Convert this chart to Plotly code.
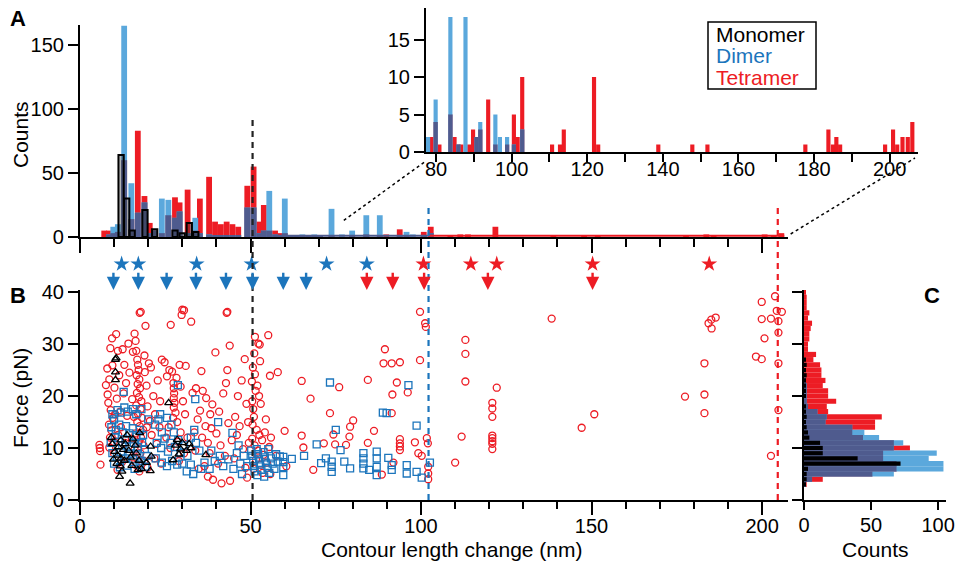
import plotly.graph_objects as go

W, H = 958, 563
RED = "#ED1C24"
BLUE = "#1C75BC"
LBLUE = "#5BA8DC"
SLATE = "#4F5B8E"
FONT = "Liberation Sans, Arial, sans-serif"

# ---------------- Panel A main histogram (contour length, nm) ----------------
a_centers = [7.1, 8.5, 9.75, 11.1, 12.95, 15.05, 16.95, 18.9, 20.45, 22.0, 24.0, 25.9, 27.85,
             29.2, 31.55, 33.8, 35.15, 37.85, 39.6, 41.3, 43.0, 44.7, 46.4, 49.05, 50.9, 52.55,
             53.9, 55.5, 57.2, 58.8, 60.05, 61.8, 63.5, 65.2, 67.0, 68.7, 70.4, 73.75, 76.8, 79.8,
             83.95, 87.9, 89.8, 93.75, 95.75, 97.6, 100.8, 102.85, 108.6, 111.5, 113.75, 121.8,
             138.8, 147.8, 151.8, 177.7, 183.65, 185.8, 200.75, 203.4, 205.65]
a_dimer = [0, 2, 8, 10, 165, 42, 19, 27, 3, 5, 30, 29, 15,
           20, 3, 15, 3, 2, 1, 1, 1, 1, 1, 23, 23, 3,
           5, 36, 2, 1, 30, 1, 1, 2, 1, 2, 1, 22, 2, 5,
           17, 17, 0, 1, 4, 2, 1, 3, 0, 0, 0, 0,
           0, 0, 0, 0, 0, 0, 0, 0, 0]
a_tetramer = [5, 5, 3, 4, 60, 14, 83, 32, 11, 5, 3, 17, 31,
              27, 37, 5, 30, 47, 12, 10, 12, 10, 8, 40, 55, 12,
              25, 5, 5, 3, 3, 1, 1, 1, 1, 1, 1, 1, 0, 1,
              2, 1, 2, 6, 1, 0, 4, 8, 1, 2, 2, 8,
              1, 1, 1, 1, 2, 1, 2, 1, 3]
a_mono_centers = [12.05, 13.7, 15.3, 19.05, 21.9, 27.85, 29.95, 32.05, 33.95]
a_monomer = [64, 30, 5, 21, 6, 5, 3, 11, 4]
# extent of the empty (zero-count) bins drawn as a thin line along the axis
a_empty_dimer = [57.0, 102.0]
a_empty_tetramer = [102.0, 206.5]

# ---------------- Panel A inset histogram ----------------
i_centers = [77.9, 78.8, 79.9, 80.9, 83.8, 84.9, 85.9, 86.7, 87.8, 88.8, 89.8, 90.7, 91.7,
             93.8, 95.7, 96.9, 98.8, 100.6, 101.6, 102.8, 110.7, 112.8, 113.8, 121.8, 122.9,
             138.8, 147.8, 151.8, 177.7, 183.8, 185.0, 185.9, 186.9, 198.8, 200.9, 202.0,
             203.4, 204.8, 206.0]
i_dimer = [2, 0, 7, 0, 18, 0, 1, 0, 18, 0, 0, 2, 4,
           0, 5, 2, 2, 1, 0, 3, 0, 0, 0, 0, 0,
           0, 0, 0, 0, 0, 0, 0, 0, 0, 0, 0,
           0, 0, 0]
i_tetramer = [0, 2, 4, 1, 5, 2, 1, 1, 0, 1, 3, 2, 3,
              7, 1, 0, 1, 5, 2, 10, 1, 1, 3, 10, 1,
              1, 1, 1, 1, 3, 1, 2, 1, 1, 3, 1,
              2, 2, 4]
i_ticks = [80, 100, 120, 140, 160, 180, 200]

# ---------------- Panel B scatter (contour length nm, force pN) ----------------
tet_x = [5.7, 5.8, 5.9, 6.0,
         7.6, 8.6, 10.1, 8.1, 8.9, 11.1, 12.5, 10.6, 9.4, 8.0, 9.5, 8.3, 9.0, 9.6, 8.5, 9.2, 8.8,
         9.9, 8.6, 10.8, 11.5, 11.8, 10.3, 10.0, 12.0, 11.2, 12.8, 13.0, 13.5, 13.8, 12.3, 11.0,
         13.2, 14.2, 14.5,
         15.5, 16.0, 16.3, 16.5, 17.5, 19.2, 16.8, 17.0, 17.2, 16.6, 17.4, 16.9, 17.6, 16.7, 17.3,
         18.0, 16.5, 17.8, 17.0, 18.2, 16.8, 17.5, 18.5, 16.3, 17.9, 17.2, 18.6, 16.0, 17.7, 15.5,
         18.8, 16.4, 19.0, 19.5, 18.9, 19.8, 20.2, 19.6, 15.3, 15.8, 15.2, 19.8, 17.4,
         20.8, 21.5, 22.0, 22.8, 21.0, 23.5, 22.5, 21.8, 23.3, 20.5, 24.0, 23.8,
         24.8, 26.2, 26.6, 25.5, 27.0, 28.3, 27.4, 27.5, 27.6, 27.5, 27.7, 27.5, 28.0, 27.3, 28.5,
         26.0, 29.5, 25.3, 28.8, 30.2, 29.2, 30.0, 29.8, 29.5, 26.5, 30.5, 32.6, 31.0, 30.8, 31.5,
         29.0,
         33.0, 34.0, 35.6, 36.0, 37.0, 35.2, 34.5, 36.8, 33.5, 35.8, 37.5, 38.2, 38.8, 39.7, 38.0,
         36.5, 37.5, 39.0, 40.0, 40.8, 41.5, 42.0, 42.8, 43.0, 43.9, 43.2, 44.0, 42.5, 41.2, 43.5,
         44.5, 40.5, 38.5, 33.8, 34.8,
         45.5, 46.3, 47.4, 48.3, 46.0, 47.8, 45.2, 48.5, 49.0, 49.3, 48.8, 46.8, 49.5,
         50.5, 50.8, 51.0, 50.6, 51.3, 52.7, 52.3, 51.3, 52.8, 52.0, 51.5, 52.5, 53.0, 51.8, 52.6,
         53.4, 51.2, 52.2, 53.8, 51.6, 52.9, 50.9, 53.5, 54.5, 54.2, 55.2, 55.7, 55.5, 54.8, 56.0,
         55.8, 50.4, 50.7, 51.1, 50.5,
         58.0, 57.5, 60.0, 60.5, 65.0, 65.0, 65.5, 67.6, 68.4, 71.5, 73.3, 74.3, 74.8, 76.0, 78.0,
         78.2, 79.0, 79.2, 80.1,
         84.4, 84.4, 86.2, 88.5, 89.4, 89.0, 91.4, 93.8, 92.9, 91.6, 91.4, 96.1, 91.9, 93.8, 93.8,
         93.8, 93.8, 98.2, 99.7, 99.7, 99.2, 100.2, 101.2, 101.4, 101.7, 102.0, 102.1, 102.1, 102.1,
         110.0, 111.9, 113.0, 113.0, 113.0, 120.9, 120.9, 120.9, 120.9, 120.9, 120.9, 120.9, 120.9,
         122.2, 138.3, 147.1, 150.8, 177.4, 183.1, 183.1, 183.1, 184.3, 185.1, 186.4, 185.2, 198.2,
         199.9, 199.9, 199.9, 200.7, 202.6, 202.6, 203.8, 204.3, 205.8, 204.8, 204.8, 204.8, 204.8,
         17.8, 30.5, 43.2]
tet_y = [10.6, 10.0, 9.4, 6.8,
         22.1, 23.2, 21.6, 20.3, 29.2, 28.7, 29.0, 31.9, 31.1, 25.3, 25.9, 18.7, 17.3, 15.8, 14.5,
         13.4, 12.0, 11.2, 10.1, 19.5, 24.0, 17.0, 16.5, 8.9, 14.0, 12.5, 20.5, 26.0, 22.5, 16.2,
         7.3, 5.8, 11.0, 30.1, 24.5,
         28.5, 32.0, 30.6, 28.7, 36.0, 33.5, 27.0, 26.0, 25.0, 24.0, 23.2, 22.3, 21.5, 20.6, 19.8,
         19.0, 18.2, 17.5, 16.6, 15.8, 15.0, 14.2, 13.5, 12.8, 12.0, 11.2, 10.5, 9.7, 9.0, 8.2,
         7.5, 6.7, 24.6, 22.0, 27.8, 18.0, 26.3, 14.0, 19.4, 16.0, 11.8, 6.2, 5.5,
         25.5, 20.0, 16.5, 23.0, 12.5, 19.0, 10.8, 8.0, 14.0, 15.2, 27.0, 7.0,
         26.5, 25.0, 33.7, 23.8, 24.7, 23.5, 22.5, 21.5, 20.5, 19.6, 18.7, 17.8, 16.8, 15.8, 15.0,
         14.0, 13.0, 12.0, 11.2, 19.0, 26.0, 36.6, 35.6, 21.8, 10.0, 9.0, 34.3, 25.8, 16.5, 12.0,
         7.5,
         20.6, 21.5, 24.8, 21.0, 19.6, 17.2, 15.5, 14.2, 13.0, 12.0, 11.0, 16.5, 18.4, 28.4, 9.0,
         6.5, 4.5, 3.9, 12.8, 17.0, 3.2, 20.5, 22.5, 36.0, 29.7, 25.0, 3.7, 8.5, 10.5, 14.8,
         11.5, 7.0, 13.8, 9.5, 6.0,
         16.0, 20.0, 23.0, 27.1, 12.5, 9.8, 8.0, 6.2, 4.3, 15.0, 18.5, 14.2, 11.0,
         19.0, 17.5, 16.0, 14.5, 31.4, 29.9, 30.1, 24.2, 26.7, 22.0, 21.0, 20.0, 18.5, 13.5, 12.5,
         11.5, 10.5, 9.5, 8.7, 7.8, 6.8, 6.0, 5.2, 15.5, 13.0, 31.7, 23.9, 10.2, 7.2, 12.0,
         5.0, 22.8, 25.5, 28.2, 11.8,
         24.6, 8.5, 13.3, 6.5, 22.9, 12.4, 10.1, 19.5, 5.8, 10.9, 16.7, 12.6, 10.7, 21.7, 10.6,
         41.2, 12.2, 14.1, 15.3,
         23.1, 11.0, 13.3, 4.9, 29.0, 26.3, 26.3, 26.5, 22.6, 20.3, 16.7, 20.7, 7.2, 11.7, 10.9,
         10.3, 9.6, 11.1, 36.2, 26.9, 9.0, 8.5, 34.0, 33.3, 11.9, 10.9, 6.4, 5.1, 4.0,
         7.2, 12.2, 30.8, 28.1, 22.8, 18.7, 17.6, 16.0, 12.4, 11.9, 11.3, 10.8, 9.8,
         21.6, 34.9, 13.9, 16.5, 19.9, 26.3, 20.3, 16.7, 34.0, 34.7, 35.1, 33.0, 27.6,
         27.1, 38.1, 34.8, 31.1, 34.9, 8.5, 39.2, 36.4, 36.2, 34.4, 32.2, 26.3, 17.3,
         36.2, 36.5, 36.2]

dim_x = [12.8, 9.5, 10.0, 11.0, 12.0, 13.0, 14.0, 15.5, 16.5, 18.0, 9.2, 10.5, 11.5, 12.5, 13.5,
         14.5, 15.5, 16.5, 17.5, 18.5, 9.0, 10.2, 11.3, 12.4, 13.6, 14.8, 15.8, 17.0, 18.2, 19.0,
         9.5, 10.8, 12.0, 13.2, 14.5, 15.6, 16.8, 18.0, 19.5, 10.0, 11.7, 13.8, 16.0, 17.5, 19.2,
         20.0,
         22.0, 23.0, 24.0, 25.5, 26.8, 27.5, 28.7, 33.8, 22.5, 23.8, 24.8, 25.8, 26.5, 27.8, 28.8,
         29.5, 30.5, 31.5, 32.5, 33.5, 34.0, 35.0, 22.2, 24.0, 25.5, 27.0, 28.5, 30.0, 31.3, 32.5,
         33.2, 35.5, 36.5, 38.0, 23.5,
         40.5, 44.7, 38.5, 39.5, 41.0, 42.0, 43.5, 45.0, 46.0, 47.0, 48.0, 49.0, 47.5, 46.5,
         50.2, 50.5, 50.8, 51.0, 51.2, 51.8, 52.2, 52.5, 52.8, 53.2, 53.8, 54.2, 54.5, 55.0, 55.5,
         56.0, 56.5, 57.0, 57.5, 58.0, 52.0, 54.0, 55.2,
         58.6, 59.6, 59.6, 59.6, 59.6, 62.1, 65.7, 69.4, 70.7, 72.1, 73.3, 73.8, 73.8, 73.8, 75.0,
         76.4, 77.5, 79.2, 83.1, 83.1, 83.1, 83.1, 84.8, 87.0, 87.0, 87.0, 87.0, 88.8, 89.9, 90.4,
         91.4, 91.4, 95.8, 95.8, 96.3, 98.7, 98.7, 100.2, 102.6]
dim_y = [20.8, 16.5, 15.5, 17.3, 16.8, 17.8, 17.0, 17.5, 16.5, 17.5, 14.0, 13.5, 14.5, 13.0, 14.2,
         12.8, 13.8, 12.2, 13.5, 12.5, 11.0, 12.0, 11.2, 10.5, 11.6, 10.3, 11.0, 10.2, 11.0, 9.8,
         9.0, 8.3, 9.2, 8.0, 8.8, 7.8, 8.6, 7.5, 8.5, 7.0, 6.3, 6.6, 6.0, 6.8, 6.4,
         15.5,
         14.5, 15.5, 13.0, 15.8, 14.5, 13.0, 22.1, 19.4, 11.0, 10.0, 11.8, 9.3, 11.0, 10.2, 11.5,
         9.0, 10.5, 8.5, 12.0, 13.5, 11.0, 9.5, 8.0, 7.2, 6.5, 7.5, 6.8, 7.0, 5.5, 6.8,
         5.0, 6.0, 7.2, 6.0, 16.5,
         15.0, 12.9, 9.5, 7.5, 8.5, 6.5, 7.8, 6.0, 9.0, 7.0, 8.5, 6.5, 5.0, 10.5,
         9.5, 8.5, 7.5, 6.5, 5.5, 9.8, 8.8, 7.8, 6.8, 5.8, 9.2, 8.2, 7.2, 6.2, 5.2,
         8.0, 7.0, 6.0, 8.8, 7.4, 4.8, 4.5, 9.8,
         8.4, 8.3, 7.3, 6.3, 4.8, 7.9, 8.5, 10.7, 7.1, 8.0, 22.6, 7.4, 6.4, 5.4, 13.5,
         9.6, 7.4, 6.1, 9.0, 8.0, 7.0, 6.1, 5.8, 9.3, 8.0, 6.4, 4.8, 16.8, 16.7, 8.1,
         6.7, 5.8, 6.7, 5.1, 22.1, 14.3, 5.4, 4.3, 7.2]

mono_x = [10.4, 10.4, 10.4, 10.6, 26.0, 17.5, 12.0, 11.3, 12.7, 9.5, 10.2, 11.0, 12.0, 13.0, 9.8,
          10.8, 11.8, 13.3, 14.3, 14.8, 15.5, 16.2, 16.5, 17.3, 15.2, 18.0, 20.6, 20.7, 20.9, 11.6,
          14.7, 27.3, 28.0, 28.5, 29.5, 30.0, 31.2, 32.0, 32.5, 29.0, 36.9, 9.2, 13.8, 12.3, 17.0,
          19.5]
mono_y = [27.0, 24.6, 23.1, 27.3, 18.7, 12.9, 11.5, 10.2, 9.7, 10.8, 9.3, 8.6, 8.0, 7.6, 7.8,
          7.0, 6.5, 10.8, 9.5, 8.2, 11.7, 10.5, 9.0, 7.6, 6.6, 6.0, 5.6, 10.3, 8.4, 4.5,
          3.2, 7.7, 10.5, 11.6, 9.8, 11.0, 9.5, 10.8, 10.0, 8.8, 8.7, 12.0, 12.5, 5.5, 5.8,
          7.2]

# stars and arrows above panel B (nm)
star_dimer = [12.2, 17.1, 34.2, 50.3, 72.3, 84.1]
star_tetramer = [100.7, 114.6, 122.2, 150.3, 184.5]
arrow_dimer = [9.8, 17.1, 25.4, 34.0, 42.8, 50.6, 59.6, 66.3]
arrow_tetramer = [84.1, 91.7, 100.9, 119.6, 150.3]

# reference dashed lines (nm)
dash_monomer = 50.6
dash_dimer = 102.2
dash_tetramer = 204.6

# ---------------- Panel C force histogram (pN) ----------------
c_force = [41, 40, 39, 38, 37, 36, 35, 34, 33, 32, 31, 30, 29, 28, 27, 26, 25, 24, 23, 22, 21,
           20, 19, 18, 17, 16, 15, 14, 13, 12, 11, 10, 9, 8, 7, 6, 5, 4, 3]
c_tetramer = [1, 1, 2, 2, 2, 4, 3, 6, 5, 4, 4, 3, 3, 9, 7, 12, 13, 13, 16, 14, 18,
              18, 24, 17, 18, 58, 53, 53, 36, 44, 67, 79, 59, 59, 69, 69, 51, 14, 2]
c_dimer = [0, 0, 0, 0, 0, 0, 0, 0, 0, 0, 0, 0, 0, 0, 0, 0, 0, 0, 1, 2, 2,
           2, 2, 3, 10, 17, 16, 36, 45, 56, 74, 67, 99, 93, 104, 104, 67, 6, 1]
c_monomer = [0, 0, 0, 0, 0, 0, 0, 0, 0, 0, 0, 0, 0, 0, 1, 2, 1, 2, 1, 1, 1,
             1, 0, 1, 1, 2, 1, 2, 3, 4, 12, 14, 14, 40, 72, 3, 2, 2, 1]

# ---------------- geometry helpers (pixels -> paper) ----------------
def px(p):
    return p / W

def py(p):
    return (H - p) / H

A_X = [80, 788]
A_Y = [237, 25]
B_Y = [500, 290]
S_Y = [290, 250]
C_X = [804, 946]
I_X = [426, 918]
I_Y = [152, 8]
a_range = [0, 207.6]
a_yrange = [0, 165.6]
b_yrange = [0, 40.4]
c_xrange = [0, 105.9]
i_range = [77.35, 207.5]
i_yrange = [0, 19.2]

fig = go.Figure()


def overlap_bars(fig, pos, dim, tet, width, xa, ya, horizontal=False):
    low = [min(d, t) for d, t in zip(dim, tet)]
    for vals, col in ((tet, RED), (dim, LBLUE), (low, SLATE)):
        if horizontal:
            fig.add_trace(go.Bar(y=pos, x=vals, orientation="h", width=width, marker_color=col,
                                 marker_line_width=0, xaxis=xa, yaxis=ya, showlegend=False))
        else:
            fig.add_trace(go.Bar(x=pos, y=vals, width=width, marker_color=col,
                                 marker_line_width=0, xaxis=xa, yaxis=ya, showlegend=False))


# Panel A
overlap_bars(fig, a_centers, a_dimer, a_tetramer, 1.7, "x", "y")
for rng, col in ((a_empty_dimer, SLATE), (a_empty_tetramer, RED)):
    fig.add_trace(go.Scatter(x=rng, y=[0.9, 0.9], mode="lines", line=dict(color=col, width=2),
                             xaxis="x", yaxis="y", showlegend=False, hoverinfo="skip"))
fig.add_trace(go.Bar(x=a_mono_centers, y=a_monomer, width=1.55, marker_color="rgba(40,40,40,0.35)",
                     marker_line_color="black", marker_line_width=2, xaxis="x", yaxis="y",
                     showlegend=False))
# Inset
overlap_bars(fig, i_centers, i_dimer, i_tetramer, 1.1, "x4", "y4")
# Panel C
overlap_bars(fig, c_force, c_dimer, c_tetramer, 1.0, "x3", "y3", horizontal=True)
fig.add_trace(go.Bar(y=c_force, x=c_monomer, orientation="h", width=0.8, marker_color="black",
                     marker_line_width=0, xaxis="x3", yaxis="y3", showlegend=False))

# Panel B scatter
fig.add_trace(go.Scatter(x=tet_x, y=tet_y, mode="markers", xaxis="x2", yaxis="y2", showlegend=False,
                         marker=dict(symbol="circle-open", size=7, color=RED, line=dict(width=1.3))))
fig.add_trace(go.Scatter(x=dim_x, y=dim_y, mode="markers", xaxis="x2", yaxis="y2", showlegend=False,
                         marker=dict(symbol="square-open", size=7, color=BLUE, line=dict(width=1.3))))
fig.add_trace(go.Scatter(x=mono_x, y=mono_y, mode="markers", xaxis="x2", yaxis="y2", showlegend=False,
                         marker=dict(symbol="triangle-up-open", size=7, color="black",
                                     line=dict(width=1.3))))

# stars above B
STAR_V = 0.65
fig.add_trace(go.Scatter(x=star_dimer + star_tetramer,
                         y=[STAR_V] * (len(star_dimer) + len(star_tetramer)),
                         mode="markers", xaxis="x2", yaxis="y5", showlegend=False,
                         marker=dict(symbol="star", size=12,
                                     color=[BLUE] * len(star_dimer) + [RED] * len(star_tetramer),
                                     line=dict(width=0))))

annotations = []
for xs, col in ((arrow_dimer, BLUE), (arrow_tetramer, RED)):
    for xv in xs:
        annotations.append(dict(x=xv, y=0.0, ax=xv, ay=0.47, xref="x2", yref="y5", axref="x2",
                                ayref="y5", showarrow=True, arrowhead=2, arrowsize=1.1,
                                arrowwidth=2.4, arrowcolor=col, text=""))

tick_font = dict(family=FONT, size=20, color="black")
axis_common = dict(showline=True, linecolor="black", linewidth=2.2, ticks="outside",
                   tickcolor="black", tickwidth=2, tickfont=tick_font, showgrid=False,
                   zeroline=False, fixedrange=True, automargin=False)

fig.update_layout(
    width=W, height=H, margin=dict(l=0, r=0, t=0, b=0, autoexpand=False),
    paper_bgcolor="white", plot_bgcolor="rgba(0,0,0,0)",
    barmode="overlay", showlegend=False, font=dict(family=FONT, size=20, color="black"),
    xaxis=dict(axis_common, domain=[px(A_X[0]), px(A_X[1])], range=a_range, anchor="y",
               dtick=50, ticklen=14, showticklabels=False,
               minor=dict(dtick=10, ticklen=8, tickwidth=2, tickcolor="black", ticks="outside")),
    yaxis=dict(axis_common, domain=[py(A_Y[0]), py(A_Y[1])], range=a_yrange, anchor="x",
               tickvals=[0, 50, 100, 150], ticklen=10),
    xaxis2=dict(axis_common, domain=[px(A_X[0]), px(A_X[1])], range=a_range, anchor="y2",
                dtick=50, ticklen=13, ticklabelstandoff=-6,
                minor=dict(dtick=10, ticklen=7, tickwidth=2, tickcolor="black", ticks="outside")),
    yaxis2=dict(axis_common, domain=[py(B_Y[0]), py(B_Y[1])], range=b_yrange, anchor="x2",
                dtick=10, ticklen=10),
    yaxis5=dict(domain=[py(S_Y[0]), py(S_Y[1])], range=[0, 1], anchor="x2", visible=False,
                fixedrange=True, automargin=False),
    xaxis3=dict(axis_common, domain=[px(C_X[0]), px(C_X[1])], range=c_xrange, anchor="y3",
                dtick=50, ticklen=8, ticklabelstandoff=-2),
    yaxis3=dict(axis_common, domain=[py(B_Y[0]), py(B_Y[1])], range=b_yrange, anchor="x3",
                dtick=10, ticklen=10, showticklabels=False),
    xaxis4=dict(axis_common, domain=[px(I_X[0]), px(I_X[1])], range=i_range, anchor="y4",
                tickvals=i_ticks, ticklen=8, ticklabelstandoff=-10,
                minor=dict(dtick=10, ticklen=8, tickwidth=2, tickcolor="black", ticks="outside")),
    yaxis4=dict(axis_common, domain=[py(I_Y[0]), py(I_Y[1])], range=i_yrange, anchor="x4",
                dtick=5, ticklen=10),
)


def ax_to_px(v, rng, pix):
    return pix[0] + (v - rng[0]) / (rng[1] - rng[0]) * (pix[1] - pix[0])


shapes = []
# dashed reference lines spanning panels A and B
for xv, col, top_px in ((dash_monomer, "#222222", 120), (dash_dimer, BLUE, 205),
                        (dash_tetramer, RED, 205)):
    shapes.append(dict(type="line", xref="x2", yref="paper", x0=xv, x1=xv, y0=py(B_Y[0]),
                       y1=py(top_px), line=dict(color=col, width=2.2, dash="6px,5px")))
# dotted connectors between main A axis and inset
l_start = (ax_to_px(i_range[0], a_range, A_X), ax_to_px(13, a_yrange, A_Y))
r_start = (ax_to_px(i_range[1], a_range, A_X) + 3, A_Y[0] - 3)
shapes.append(dict(type="line", xref="paper", yref="paper", x0=px(l_start[0]), y0=py(l_start[1]),
                   x1=px(I_X[0]), y1=py(I_Y[0] + 9), line=dict(color="black", width=1.5, dash="dot")))
shapes.append(dict(type="line", xref="paper", yref="paper", x0=px(r_start[0]), y0=py(r_start[1]),
                   x1=px(I_X[1] - 3), y1=py(I_Y[0] + 6), line=dict(color="black", width=1.5, dash="dot")))
# legend box
LEG = dict(x0=708, x1=816, y0=22, y1=89)
shapes.append(dict(type="rect", xref="paper", yref="paper", x0=px(LEG["x0"]), x1=px(LEG["x1"]),
                   y0=py(LEG["y1"]), y1=py(LEG["y0"]), line=dict(color="black", width=1.5),
                   fillcolor="white"))

legend_items = [("Monomer", "black"), ("Dimer", BLUE), ("Tetramer", RED)]
for k, (name, col) in enumerate(legend_items):
    annotations.append(dict(x=px(LEG["x0"] + 6), y=py(LEG["y0"] + 12 + 21.5 * k), xref="paper",
                            yref="paper", xanchor="left", yanchor="middle", showarrow=False,
                            text=name, font=dict(family=FONT, size=21, color=col)))

# panel labels
for lab, xp, yp in (("A", 18, 18), ("B", 18, 296), ("C", 932, 296)):
    annotations.append(dict(x=px(xp), y=py(yp), xref="paper", yref="paper", showarrow=False,
                            xanchor="center", yanchor="middle",
                            text="<b>%s</b>" % lab, font=dict(family=FONT, size=22, color="black")))
# axis titles
titles = [("Counts", 20, 135, -90), ("Force (pN)", 20, 398, -90),
          ("Contour length change (nm)", 452, 549, 0), ("Counts", 875, 549, 0)]
for txt, xp, yp, ang in titles:
    annotations.append(dict(x=px(xp), y=py(yp), xref="paper", yref="paper", showarrow=False,
                            xanchor="center", yanchor="middle", text=txt, textangle=ang,
                            font=dict(family=FONT, size=21, color="black")))

fig.update_layout(shapes=shapes, annotations=annotations)
fig.write_html("out.html", post_script="document.body.style.margin='0px';",
               config={"displayModeBar": False})
